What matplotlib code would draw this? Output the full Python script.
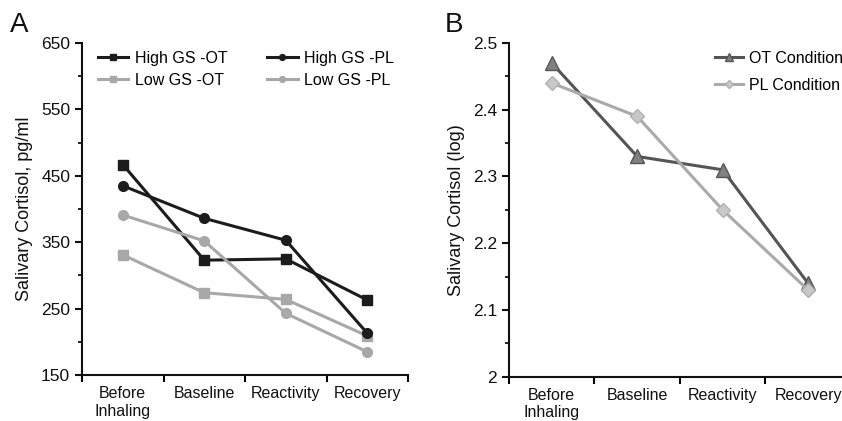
import numpy as np
import matplotlib
matplotlib.use('Agg')
import matplotlib.pyplot as plt
from matplotlib.ticker import MultipleLocator, FixedLocator

plt.rcParams['font.family'] = ['Liberation Sans', 'DejaVu Sans']

### data
categories = ['Before\nInhaling', 'Baseline', 'Reactivity', 'Recovery']

high_gs_ot = [467, 323, 325, 263]
high_gs_pl = [435, 386, 353, 213]
low_gs_ot = [331, 274, 264, 209]
low_gs_pl = [391, 352, 243, 185]

ot_condition = [2.47, 2.33, 2.31, 2.14]
pl_condition = [2.44, 2.39, 2.25, 2.13]

dark = '#1c1c1c'
light = '#a8a8a8'

fig = plt.figure(figsize=(8.42, 4.21), dpi=100)
axA = fig.add_axes([0.0974, 0.109, 0.3872, 0.789])
axB = fig.add_axes([0.6045, 0.105, 0.4060, 0.793])

x = np.arange(1, len(categories) + 1)

def style_axis(ax):
    for s in ['top', 'right']:
        ax.spines[s].set_visible(False)
    for s in ['left', 'bottom']:
        ax.spines[s].set_linewidth(1.5)
        ax.spines[s].set_color('#111111')
    ax.set_xlim(0.5, len(categories) + 0.5)
    # major ticks between categories, labels at category centres
    ax.xaxis.set_major_locator(FixedLocator(np.arange(0.5, len(categories) + 1)))
    ax.xaxis.set_major_formatter(plt.NullFormatter())
    ax.xaxis.set_minor_locator(FixedLocator(x))
    ax.set_xticklabels(categories, minor=True)
    ax.tick_params(axis='x', which='major', direction='out', length=5, width=1.5)
    ax.tick_params(axis='x', which='minor', length=0, pad=8, labelsize=11.5, colors='#111111')
    ax.tick_params(axis='y', which='major', direction='out', length=5, width=1.5, labelsize=12.5, colors='#111111')
    ax.tick_params(axis='y', which='minor', direction='out', length=3, width=1.2)

### panel A
lw = 2.2
axA.plot(x, high_gs_ot, color=dark, lw=lw, marker='s', ms=7, label='High GS -OT')
axA.plot(x, low_gs_ot, color=light, lw=lw, marker='s', ms=7, label='Low GS -OT')
axA.plot(x, high_gs_pl, color=dark, lw=lw, marker='o', ms=7, label='High GS -PL')
axA.plot(x, low_gs_pl, color=light, lw=lw, marker='o', ms=7, label='Low GS -PL')
axA.set_ylim(150, 650)
axA.yaxis.set_major_locator(FixedLocator(np.arange(150, 651, 100)))
axA.yaxis.set_minor_locator(FixedLocator(np.arange(200, 601, 100)))
style_axis(axA)
axA.set_ylabel('Salivary Cortisol, pg/ml', fontsize=13, labelpad=6, color='#111111')
axA.legend(loc='upper left', bbox_to_anchor=(0.005, 1.02), ncol=2, frameon=False,
           fontsize=11.5, handlelength=1.9, handletextpad=0.4, columnspacing=2.5,
           labelspacing=0.45, markerscale=0.6)
fig.text(0.012, 0.925, 'A', fontsize=20, color='#111111')

### panel B
axB.plot(x, ot_condition, color='#555555', lw=lw, marker='^', ms=10,
         markerfacecolor='#808080', markeredgecolor='#555555', label='OT Condition')
axB.plot(x, pl_condition, color='#aaaaaa', lw=lw, marker='D', ms=7,
         markerfacecolor='#c8c8c8', markeredgecolor='#b0b0b0', label='PL Condition')
axB.set_ylim(2.0, 2.5)
axB.yaxis.set_major_locator(MultipleLocator(0.1))
axB.yaxis.set_minor_locator(MultipleLocator(0.05))
axB.yaxis.set_major_formatter(plt.FuncFormatter(lambda v, p: f'{v:g}'))
style_axis(axB)
axB.set_ylabel('Salivary Cortisol (log)', fontsize=13, labelpad=6, color='#111111')
axB.legend(loc='upper left', bbox_to_anchor=(0.562, 1.02), frameon=False, fontsize=11.5,
           handlelength=1.7, handletextpad=0.4, labelspacing=0.75, markerscale=0.6)
fig.text(0.528, 0.925, 'B', fontsize=20, color='#111111')

fig.savefig('out.png', dpi=100)
